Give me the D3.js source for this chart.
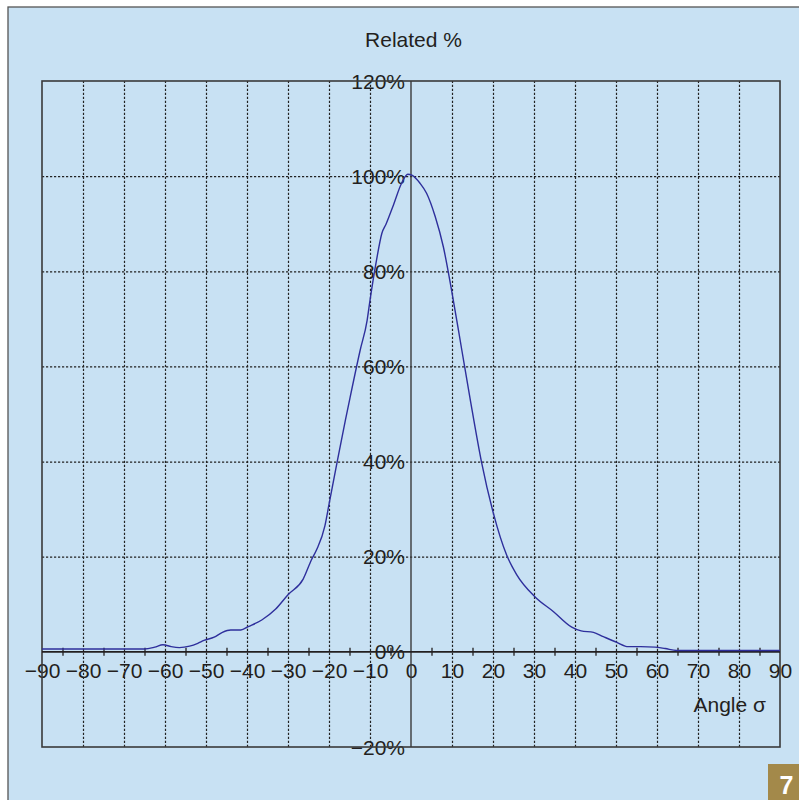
<!DOCTYPE html>
<html>
<head>
<meta charset="utf-8">
<script src="https://cdn.jsdelivr.net/npm/d3@7/dist/d3.min.js"></script>
<style>
  html, body { margin: 0; padding: 0; background: #ffffff; }
  svg { display: block; }
  text { font-family: "Liberation Sans", Arial, Helvetica, sans-serif; }
</style>
</head>
<body>
<svg id="chart" width="799" height="800"></svg>
<script>
// ---- data ----
const angles = [-90, -80, -70, -65, -62.5, -60.5, -58.5, -56.5, -54, -52, -50.5, -48, -46, -44, -41.5, -39.7,
  -36.4, -33, -30, -26.3, -24.3, -23, -21, -20, -18, -16, -14.9, -12.4, -10.7, -10, -8.4, -7.1, -6.1, -4.3,
  -2.3, -0.8, 0.2, 2.2, 3.8, 5.9, 7.9, 9.9, 12.4, 14.4, 17.2, 20.1, 23.3, 25.8, 30.2, 34.7, 39.2, 41.5, 44.5,
  46.9, 50.2, 53, 56, 59.5, 62, 64.8, 70, 80, 90];
const related = [0.6, 0.6, 0.6, 0.6, 1.0, 1.5, 1.1, 0.9, 1.2, 1.8, 2.4, 3.1, 4.1, 4.6, 4.6, 5.3,
  6.7, 9.0, 12.0, 15.3, 19.3, 21.5, 26.5, 31, 40, 48.7, 53.3, 63.4, 69.7, 73.9, 82.4, 88, 89.9, 93.9,
  98.5, 100.4, 100.2, 98.5, 96.4, 91.5, 85.1, 76, 63.4, 53.3, 39.9, 29.1, 20.4, 16.2, 11.6, 8.5, 5.2, 4.4, 4.1,
  3.2, 2.0, 1.1, 1.1, 1.0, 0.7, 0.3, 0.3, 0.3, 0.3];
const xTickLabels = [-90, -80, -70, -60, -50, -40, -30, -20, -10, 0, 10, 20, 30, 40, 50, 60, 70, 80, 90];
const xMinorTicks = [-85, -75, -65, -55, -45, -35, -25, -15, -5, 5, 15, 25, 35, 45, 55, 65, 75, 85];
const xGrid = [-80, -70, -60, -50, -40, -30, -20, -10, 10, 20, 30, 40, 50, 60, 70, 80];
const yTickLabels = [-20, 0, 20, 40, 60, 80, 100, 120];
const yGrid = [20, 40, 60, 80, 100];
const title = "Related %";
const xTitle = "Angle σ";
const badge = "7";

// ---- layout ----
const svg = d3.select("#chart");
const W = 799, H = 800;
const L = 42, R = 780, T = 81, B = 747;
const bg = "#c8e1f3";
const ink = "#231f20";
const fontSize = 21;

const x = d3.scaleLinear().domain([-90, 90]).range([L, R]);
const y = d3.scaleLinear().domain([-20, 120]).range([B, T]);
const fmtMinus = v => (v < 0 ? "\u2212" + Math.abs(v) : String(v));

// outer panel
svg.append("rect").attr("x", 8).attr("y", 7).attr("width", W - 8 + 2).attr("height", H - 7 + 2)
  .attr("fill", bg).attr("stroke", "#555").attr("stroke-width", 1.3);

// title
svg.append("text").attr("x", 413.5).attr("y", 47).attr("text-anchor", "middle")
  .attr("font-size", fontSize).attr("fill", ink).text(title);

// y labels (right-aligned next to the y axis)
svg.append("g").selectAll("text").data(yTickLabels).join("text")
  .attr("x", x(0) - 6).attr("y", d => y(d)).attr("dy", "0.36em")
  .attr("text-anchor", "end").attr("font-size", fontSize).attr("fill", ink)
  .text(d => fmtMinus(d) + "%");

// x labels via axis
const xLab = svg.append("g").attr("transform", `translate(0,${y(0)})`)
  .call(d3.axisBottom(x).tickValues(xTickLabels).tickSize(0).tickPadding(11).tickFormat(fmtMinus));
xLab.select(".domain").remove();
xLab.selectAll("text").attr("font-size", fontSize).attr("fill", ink)
  .attr("font-family", "\"Liberation Sans\", Arial, sans-serif");

// axis title
svg.append("text").attr("x", 766).attr("y", 712).attr("text-anchor", "end")
  .attr("font-size", fontSize).attr("fill", ink).text(xTitle);

// vertical grid
const gx = svg.append("g").attr("transform", `translate(0,${B})`)
  .call(d3.axisBottom(x).tickValues(xGrid).tickSize(-(B - T)).tickFormat(""));
gx.select(".domain").remove();
gx.selectAll("line").attr("stroke", "#222").attr("stroke-width", 1.2).attr("stroke-dasharray", "2.2,1.8");

// horizontal grid
const gy = svg.append("g").attr("transform", `translate(${L},0)`)
  .call(d3.axisLeft(y).tickValues(yGrid).tickSize(-(R - L)).tickFormat(""));
gy.select(".domain").remove();
gy.selectAll("line").attr("stroke", "#222").attr("stroke-width", 1.2).attr("stroke-dasharray", "2.2,1.8");

// plot border
svg.append("rect").attr("x", L).attr("y", T).attr("width", R - L).attr("height", B - T)
  .attr("fill", "none").attr("stroke", "#3a3a3a").attr("stroke-width", 1.6);

// y axis (vertical line through 0)
svg.append("line").attr("x1", x(0)).attr("x2", x(0)).attr("y1", T).attr("y2", B)
  .attr("stroke", "#3a3a3a").attr("stroke-width", 1.4);

// x axis line
svg.append("line").attr("x1", L).attr("x2", R).attr("y1", y(0)).attr("y2", y(0))
  .attr("stroke", "#231f20").attr("stroke-width", 1.6);

// minor ticks crossing the x axis
const mt = svg.append("g").attr("transform", `translate(0,${y(0) - 4})`)
  .call(d3.axisBottom(x).tickValues(xMinorTicks).tickSize(8).tickFormat(""));
mt.select(".domain").remove();
mt.selectAll("line").attr("stroke", "#231f20").attr("stroke-width", 1.3);

// curve
const pts = angles.map((a, i) => [a, related[i]]);
svg.append("path").datum(pts)
  .attr("d", d3.line().x(d => x(d[0])).y(d => y(d[1])).curve(d3.curveMonotoneX))
  .attr("fill", "none").attr("stroke", "#2e2f9c").attr("stroke-width", 1.4);

// badge
svg.append("rect").attr("x", 768).attr("y", 764).attr("width", 31).attr("height", 36).attr("fill", "#a3894a");
svg.append("text").attr("x", 786.5).attr("y", 794).attr("text-anchor", "middle")
  .attr("font-size", 25).attr("font-weight", "bold").attr("fill", "#ffffff").text(badge);
</script>
</body>
</html>
